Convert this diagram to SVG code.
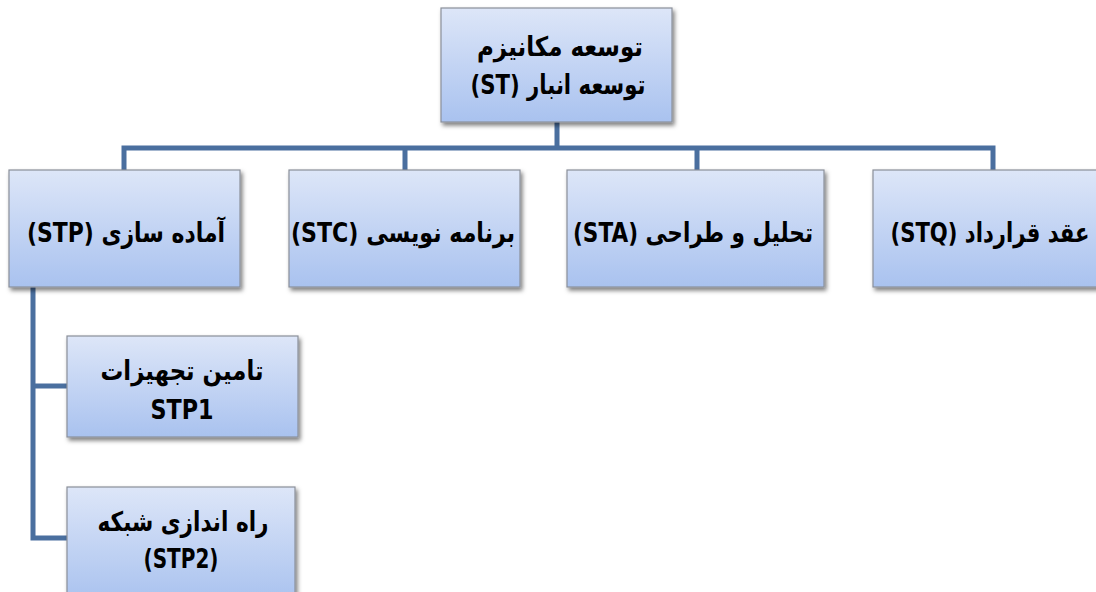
<svg xmlns="http://www.w3.org/2000/svg" width="1096" height="592" viewBox="0 0 1096 592">
<style>
.box{fill:url(#g);stroke:#8a8f99;stroke-width:1.2;filter:url(#sh)}
.t{font-family:"DejaVu Sans","Liberation Sans",sans-serif;font-weight:bold;font-size:27px;fill:#000;text-anchor:middle}
.c{fill:none;stroke:#4a6f9f;stroke-width:5;stroke-linejoin:miter}
</style>
<defs>
<linearGradient id="g" x1="0" y1="0" x2="0" y2="1">
<stop offset="0" stop-color="#dde6f8"/>
<stop offset="1" stop-color="#a9c2ef"/>
</linearGradient>
<filter id="sh" x="-10%" y="-10%" width="130%" height="140%">
<feDropShadow dx="2" dy="3" stdDeviation="2" flood-color="#000" flood-opacity="0.5"/>
</filter>
</defs>
<g id="connectors">
<path class="c" d="M557 122V148M124 170V148H993V170M405 148V170M697 148V170"/>
<path class="c" d="M33 287V538H67M33 386H67"/>
</g>
<g id="n-st">
<rect class="box" x="441" y="8" width="231" height="114"/>
<text class="t" x="560" y="56" direction="rtl" textLength="166" lengthAdjust="spacingAndGlyphs">توسعه مکانیزم</text>
<text class="t" x="558" y="94" direction="rtl" textLength="175" lengthAdjust="spacingAndGlyphs">توسعه انبار (ST)</text>
</g>
<g id="n-stp">
<rect class="box" x="9" y="170" width="231" height="117"/>
<text class="t" x="126" y="242" direction="rtl" textLength="198" lengthAdjust="spacingAndGlyphs">آماده سازی (STP)</text>
</g>
<g id="n-stc">
<rect class="box" x="289" y="170" width="231" height="117"/>
<text class="t" x="403" y="242" direction="rtl" textLength="224" lengthAdjust="spacingAndGlyphs">برنامه نویسی (STC)</text>
</g>
<g id="n-sta">
<rect class="box" x="567" y="170" width="257" height="117"/>
<text class="t" x="693" y="242" direction="rtl" textLength="240" lengthAdjust="spacingAndGlyphs">تحلیل و طراحی (STA)</text>
</g>
<g id="n-stq">
<rect class="box" x="873" y="170" width="240" height="117"/>
<text class="t" transform="translate(990 242) scale(0.784 1)" direction="rtl">عقد قرارداد (STQ)</text>
</g>
<g id="n-stp1">
<rect class="box" x="67" y="336" width="231" height="101"/>
<text class="t" x="182" y="380" direction="rtl" textLength="163" lengthAdjust="spacingAndGlyphs">تامین تجهیزات</text>
<text class="t" x="182" y="419" direction="rtl" textLength="63" lengthAdjust="spacingAndGlyphs">STP1</text>
</g>
<g id="n-stp2">
<rect class="box" x="67" y="487" width="228" height="115"/>
<text class="t" x="183" y="531" direction="rtl" textLength="171" lengthAdjust="spacingAndGlyphs">راه اندازی شبکه</text>
<text class="t" x="181" y="568" direction="rtl" textLength="75" lengthAdjust="spacingAndGlyphs">(STP2)</text>
</g>
</svg>
